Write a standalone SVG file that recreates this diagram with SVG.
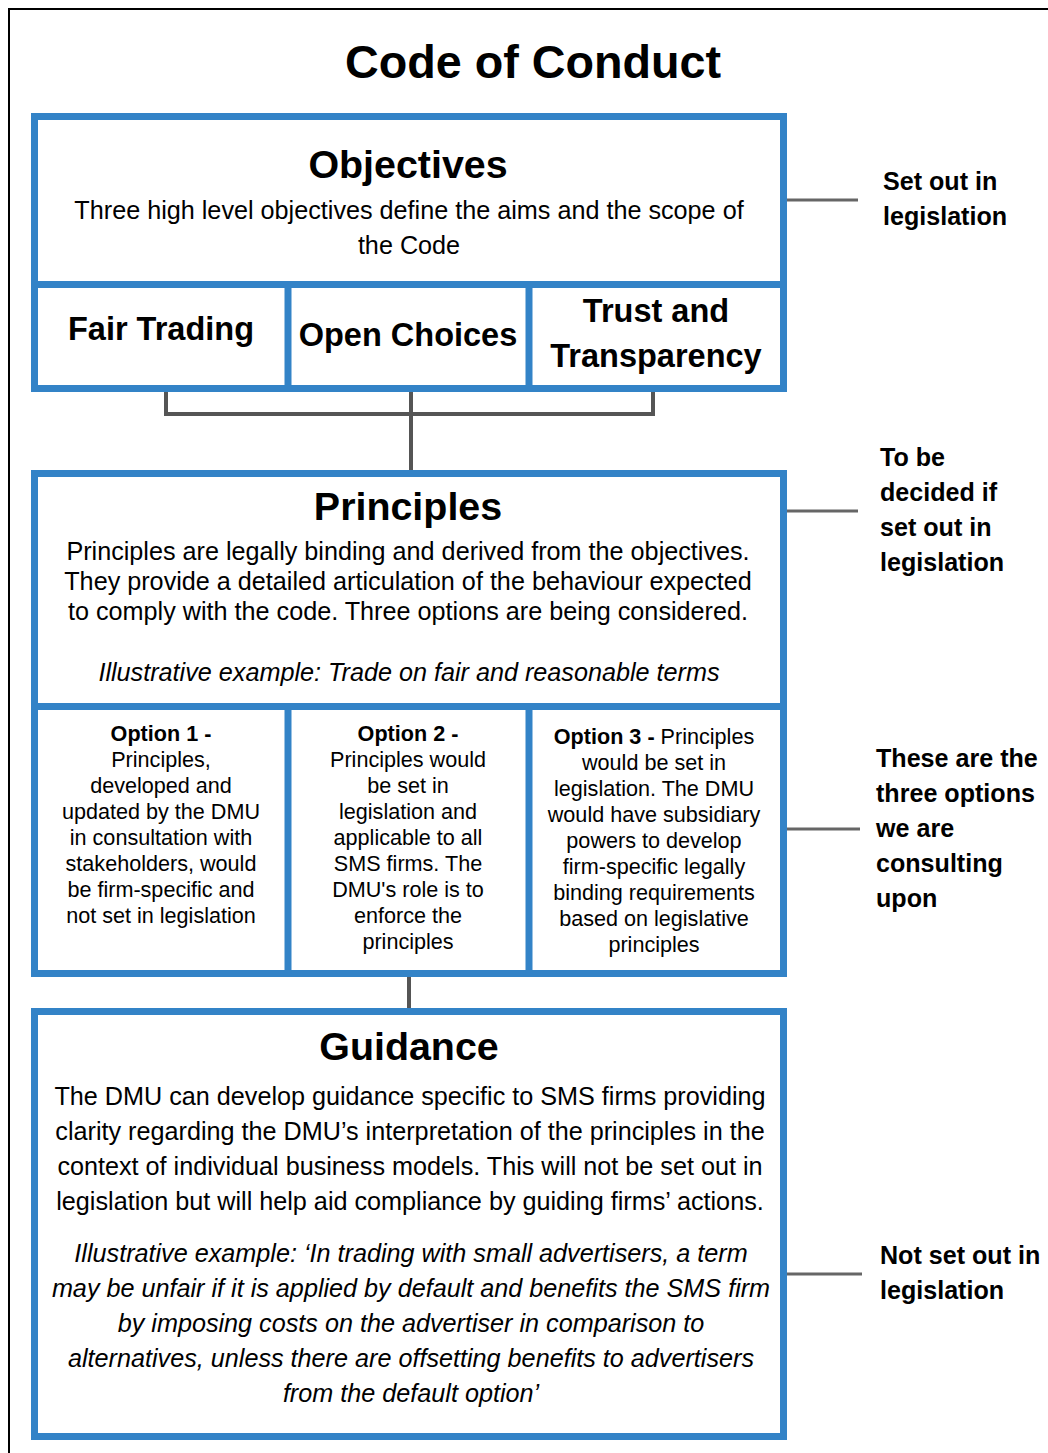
<svg xmlns="http://www.w3.org/2000/svg" width="1048" height="1453" viewBox="0 0 1048 1453">
<style>
text{font-family:"Liberation Sans",Arial,sans-serif;fill:#000;text-anchor:middle}
.box{fill:#fff;stroke:#3383C7;stroke-width:7}
.div{stroke:#3383C7;stroke-width:7;fill:none}
.h1{font-size:46.7px;font-weight:bold}
.h2{font-size:39.4px;font-weight:bold}
.h3{font-size:32.5px;font-weight:bold}
.b24{font-size:25.2px}
.i24{font-size:25.2px;font-style:italic}
.b20{font-size:21.6px}
.side{font-size:25.1px;font-weight:bold;text-anchor:start}
.con{stroke:#555;stroke-width:4;fill:none}
.tick{stroke:#666;stroke-width:3;fill:none}
</style>
<rect x="0" y="0" width="1048" height="1453" fill="#fff"/>
<path d="M9 1453 V9 H1048" fill="none" stroke="#000" stroke-width="2"/>
<text class="h1" x="533" y="78">Code of Conduct</text>

<g id="connectors">
<path class="con" d="M166 392 V414 H653 V392"/>
<path class="con" d="M411 392 V470"/>
<path class="con" d="M409 977 V1010"/>
<path class="tick" d="M786 200 H858"/>
<path class="tick" d="M786 511 H858"/>
<path class="tick" d="M786 829 H860"/>
<path class="tick" d="M786 1274 H862"/>
</g>

<g id="objectives">
<rect class="box" x="34.5" y="116.5" width="749" height="272"/>
<path class="div" d="M34 284.5 H784 M288 284 V389 M529 284 V389"/>
<text class="h2" x="408" y="178">Objectives</text>
<text class="b24" x="409" y="219">Three high level objectives define the aims and the scope of</text>
<text class="b24" x="409" y="254">the Code</text>
</g>
<g id="fair-trading"><text class="h3" x="161" y="340">Fair Trading</text></g>
<g id="open-choices"><text class="h3" x="408" y="346">Open Choices</text></g>
<g id="trust"><text class="h3" x="656" y="322">Trust and</text><text class="h3" x="656" y="367">Transparency</text></g>

<g id="principles">
<rect class="box" x="34.5" y="473.5" width="749" height="500"/>
<path class="div" d="M34 706.5 H784 M288 706 V974 M529 706 V974"/>
<text class="h2" x="408" y="520">Principles</text>
<text class="b24" x="408" y="560">Principles are legally binding and derived from the objectives.</text>
<text class="b24" x="408" y="590">They provide a detailed articulation of the behaviour expected</text>
<text class="b24" x="408" y="620">to comply with the code. Three options are being considered.</text>
<text class="i24" x="409" y="681">Illustrative example: Trade on fair and reasonable terms</text>
</g>
<g id="option1">
<text class="b20" x="161" y="741"><tspan font-weight="bold">Option 1 -</tspan></text>
<text class="b20" x="161" y="767">Principles,</text>
<text class="b20" x="161" y="793">developed and</text>
<text class="b20" x="161" y="819">updated by the DMU</text>
<text class="b20" x="161" y="845">in consultation with</text>
<text class="b20" x="161" y="871">stakeholders, would</text>
<text class="b20" x="161" y="897">be firm-specific and</text>
<text class="b20" x="161" y="923">not set in legislation</text>
</g>
<g id="option2">
<text class="b20" x="408" y="741"><tspan font-weight="bold">Option 2 -</tspan></text>
<text class="b20" x="408" y="767">Principles would</text>
<text class="b20" x="408" y="793">be set in</text>
<text class="b20" x="408" y="819">legislation and</text>
<text class="b20" x="408" y="845">applicable to all</text>
<text class="b20" x="408" y="871">SMS firms. The</text>
<text class="b20" x="408" y="897">DMU's role is to</text>
<text class="b20" x="408" y="923">enforce the</text>
<text class="b20" x="408" y="949">principles</text>
</g>
<g id="option3">
<text class="b20" x="654" y="744"><tspan font-weight="bold">Option 3 -</tspan> Principles</text>
<text class="b20" x="654" y="770">would be set in</text>
<text class="b20" x="654" y="796">legislation. The DMU</text>
<text class="b20" x="654" y="822">would have subsidiary</text>
<text class="b20" x="654" y="848">powers to develop</text>
<text class="b20" x="654" y="874">firm-specific legally</text>
<text class="b20" x="654" y="900">binding requirements</text>
<text class="b20" x="654" y="926">based on legislative</text>
<text class="b20" x="654" y="952">principles</text>
</g>

<g id="guidance">
<rect class="box" x="34.5" y="1011.5" width="749" height="425"/>
<text class="h2" x="409" y="1060">Guidance</text>
<text class="b24" x="410" y="1105">The DMU can develop guidance specific to SMS firms providing</text>
<text class="b24" x="410" y="1140">clarity regarding the DMU’s interpretation of the principles in the</text>
<text class="b24" x="410" y="1175">context of individual business models. This will not be set out in</text>
<text class="b24" x="410" y="1210">legislation but will help aid compliance by guiding firms’ actions.</text>
<text class="i24" x="411" y="1262">Illustrative example: ‘In trading with small advertisers, a term</text>
<text class="i24" x="411" y="1297">may be unfair if it is applied by default and benefits the SMS firm</text>
<text class="i24" x="411" y="1332">by imposing costs on the advertiser in comparison to</text>
<text class="i24" x="411" y="1367">alternatives, unless there are offsetting benefits to advertisers</text>
<text class="i24" x="411" y="1402">from the default option’</text>
</g>

<g id="label-objectives">
<text class="side" x="883" y="190">Set out in</text>
<text class="side" x="883" y="225">legislation</text>
</g>
<g id="label-principles">
<text class="side" x="880" y="466">To be</text>
<text class="side" x="880" y="501">decided if</text>
<text class="side" x="880" y="536">set out in</text>
<text class="side" x="880" y="571">legislation</text>
</g>
<g id="label-options">
<text class="side" x="876" y="767">These are the</text>
<text class="side" x="876" y="802">three options</text>
<text class="side" x="876" y="837">we are</text>
<text class="side" x="876" y="872">consulting</text>
<text class="side" x="876" y="907">upon</text>
</g>
<g id="label-guidance">
<text class="side" x="880" y="1264">Not set out in</text>
<text class="side" x="880" y="1299">legislation</text>
</g>
</svg>
